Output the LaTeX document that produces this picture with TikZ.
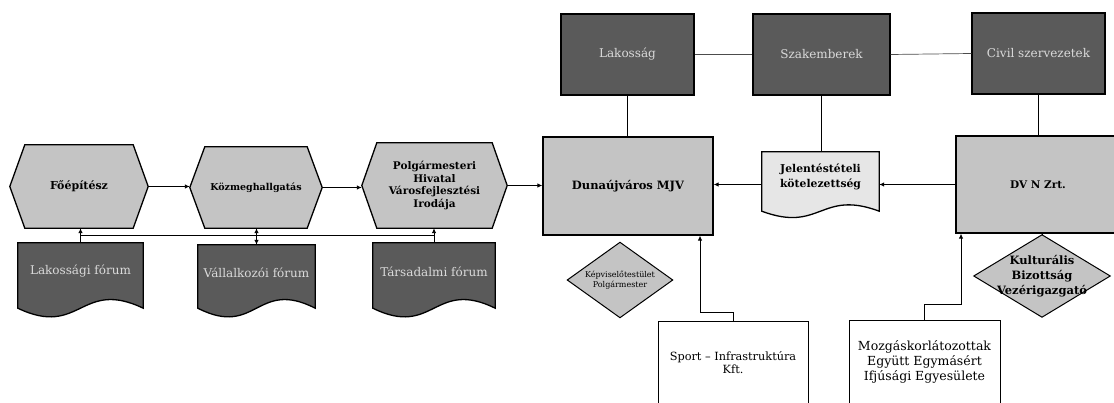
\documentclass[tikz,border=0pt]{standalone}
\usepackage{fontspec}
\setmainfont{DejaVu Serif}
\usetikzlibrary{arrows.meta,calc,backgrounds}
\definecolor{lightfill}{HTML}{C4C4C4}
\definecolor{darkfill}{HTML}{5A5A5A}
\definecolor{docfill}{HTML}{E6E6E6}
\definecolor{darktext}{HTML}{DADADA}
\tikzset{
  base/.style={inner sep=0pt, align=center, font=\fontsize{10}{12.5}\selectfont},
  boldtext/.style={font=\bfseries\fontsize{10.5}{12.5}\selectfont},
  shapeonly/.style={base},
  box/.style={base, draw=black, line width=1.3pt, fill=lightfill},
  darkbox/.style={base, font=\fontsize{12}{14}\selectfont, draw=black, line width=1.3pt, fill=darkfill, text=darktext},
  whitebox/.style={base, draw=black, line width=1pt, fill=white},
  outline/.style={draw=black, line width=1.3pt},
  conn/.style={draw=black, line width=0.9pt},
  thinconn/.style={draw=black!70, line width=0.7pt},
  arr/.style={conn, -{Latex[length=5pt,width=4.5pt]}},
  darr/.style={conn, {Latex[length=5pt,width=4.5pt]}-{Latex[length=5pt,width=4.5pt]}},
}
\newcommand\myhex[3]{% node name, chamfer, fill
  \begin{pgfonlayer}{background}
  \draw[outline, fill=#3] (#1.west) -- ($(#1.north west)+(#2,0)$) -- ($(#1.north east)+(-#2,0)$)
    -- (#1.east) -- ($(#1.south east)+(-#2,0)$) -- ($(#1.south west)+(#2,0)$) -- cycle;
  \end{pgfonlayer}}
\newcommand\mydoc[4]{% node name, wave control, fill, extension below node
  \begin{pgfonlayer}{background}
  \draw[outline, fill=#3] ($(#1.south west)+(0,#4)$) -- (#1.north west) -- (#1.north east) -- ($(#1.south east)+(0,#4)$)
    .. controls ($(#1.south)+(0,#4-#2)$) and ($(#1.south)+(0,#4+#2)$) .. ($(#1.south west)+(0,#4)$) -- cycle;
  \end{pgfonlayer}}
\newcommand\mydia[2]{% node name, fill
  \begin{pgfonlayer}{background}
  \draw[line width=1pt, fill=#2] (#1.north) -- (#1.east) -- (#1.south) -- (#1.west) -- cycle;
  \end{pgfonlayer}}
\begin{document}
\begin{tikzpicture}[x=1pt,y=-1pt]
\useasboundingbox (0,0) rectangle (1114,403);

% left hexagons
\node[shapeonly, font=\bfseries\fontsize{11}{13}\selectfont, minimum width=138pt, minimum height=83pt] (hex1) at (79,186.5) {Főépítész};
\node[shapeonly, font=\bfseries\fontsize{9.5}{11}\selectfont, minimum width=132pt, minimum height=81pt] (hex2) at (256,187.5) {Közmeghallgatás};
\node[shapeonly, boldtext, minimum width=145pt, minimum height=85pt] (hex3) at (434.5,185.5) {Polgármesteri\\Hivatal\\Városfejlesztési\\Irodája};
\myhex{hex1}{15}{lightfill}
\myhex{hex2}{15}{lightfill}
\myhex{hex3}{15}{lightfill}

% left documents
\node[shapeonly, font=\fontsize{12}{14}\selectfont, text=darktext, minimum width=125pt, minimum height=57pt] (doc1) at (80.5,271.5) {Lakossági fórum};
\node[shapeonly, font=\fontsize{12}{14}\selectfont, text=darktext, minimum width=117pt, minimum height=55pt] (doc2) at (256.5,272.5) {Vállalkozói fórum};
\node[shapeonly, font=\fontsize{12}{14}\selectfont, text=darktext, minimum width=122pt, minimum height=57pt] (doc3) at (434,271.5) {Társadalmi fórum};
\mydoc{doc1}{30}{darkfill}{8}
\mydoc{doc2}{30}{darkfill}{8}
\mydoc{doc3}{30}{darkfill}{8}

% top dark boxes
\node[darkbox, minimum width=133pt, minimum height=81pt] (lak) at (627.5,54.5) {Lakosság};
\node[darkbox, minimum width=137pt, minimum height=81pt] (szak) at (821.5,54.5) {Szakemberek};
\node[darkbox, minimum width=133pt, minimum height=81pt] (civ) at (1038.5,53.5) {Civil szervezetek};

% middle row
\node[box, font=\bfseries\fontsize{11.5}{13}\selectfont, minimum width=170pt, minimum height=98pt] (mjv) at (628,186) {Dunaújváros MJV};
\node[shapeonly, font=\bfseries\fontsize{10.8}{15}\selectfont, minimum width=117pt, minimum height=50pt] (jel) at (820.5,177) {Jelentéstételi\\kötelezettség};
\mydoc{jel}{22}{docfill}{9}
\node[box, font=\bfseries\fontsize{10.5}{12}\selectfont, minimum width=164pt, minimum height=97pt] (dvn) at (1038,184.5) {DV N Zrt.};

% diamonds
\node[shapeonly, font=\fontsize{8}{10}\selectfont, minimum width=105pt, minimum height=75pt] (kep) at (620,280) {Képviselőtestület\\Polgármester};
\mydia{kep}{lightfill}
\node[shapeonly, font=\bfseries\fontsize{11.5}{15}\selectfont, minimum width=136pt, minimum height=82pt] (kul) at (1042,276) {Kulturális\\Bizottság\\Vezérigazgató};
\mydia{kul}{lightfill}

% bottom white boxes
\node[whitebox, font=\fontsize{11.3}{13}\selectfont, minimum width=150pt, minimum height=82pt] (sport) at (733,363) {Sport – Infrastruktúra\\Kft.};
\node[whitebox, font=\fontsize{12.5}{15}\selectfont, minimum width=151pt, minimum height=82pt] (mozg) at (924.5,362) {Mozgáskorlátozottak\\Együtt Egymásért\\Ifjúsági Egyesülete};

% connectors left
\draw[arr] (hex1.east) -- (hex1.east -| hex2.west);
\draw[arr] (hex2.east) -- (hex2.east -| hex3.west);
\draw[arr] (hex3.east) -- (hex3.east -| mjv.west);
\draw[arr] (doc1.north) -- (doc1.north |- hex1.south);
\draw[darr] (doc2.north) -- (doc2.north |- hex2.south);
\draw[arr] (doc3.north) -- (doc3.north |- hex3.south);
\draw[conn] ($(doc1.north)+(0,-7)$) -- ($(doc3.north)+(0,-7)$);

% connectors right
\draw[thinconn] (lak.east) -- (szak.west);
\draw[thinconn] (szak.east) -- (civ.west);
\draw[conn] (lak.south) -- (lak.south |- mjv.north);
\draw[conn] (szak.south) -- (szak.south |- jel.north);
\draw[conn] (civ.south) -- (civ.south |- dvn.north);
\draw[arr] (dvn.west) -- (dvn.west -| jel.east);
\draw[arr] (jel.west |- dvn.west) -- (mjv.east |- dvn.west);
\draw[conn] (kul.north) -- (kul.north |- dvn.south);

\coordinate (s1) at (700,312);
\draw[arr] (sport.north) |- (s1) -- (s1 |- mjv.south);
\coordinate (m1) at (961,304);
\draw[arr] (mozg.north) |- (m1) -- (m1 |- dvn.south);
\end{tikzpicture}
\end{document}
